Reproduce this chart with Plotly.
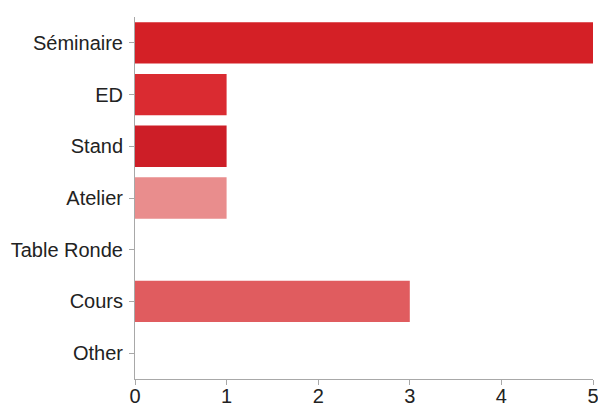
import plotly.graph_objects as go

categories = ["Séminaire", "ED", "Stand", "Atelier", "Table Ronde", "Cours", "Other"]
counts = [5, 1, 1, 1, 0, 3, 0]
bar_colors = ["#D42026", "#DA2B31", "#CD1E27", "#E98D8D", "#E05C5F", "#E05C5F", "#E05C5F"]

fig = go.Figure(
    go.Bar(
        x=counts,
        y=categories,
        orientation="h",
        marker=dict(color=bar_colors, line=dict(width=0)),
        cliponaxis=False,
    )
)

axis_style = dict(
    showline=True,
    linecolor="#a8a8a8",
    linewidth=1,
    ticks="outside",
    ticklen=5,
    tickcolor="#a8a8a8",
    showgrid=False,
    zeroline=False,
    automargin=False,
)

fig.update_layout(
    width=598,
    height=405,
    margin=dict(l=135, r=5, t=17, b=26),
    plot_bgcolor="white",
    paper_bgcolor="white",
    font=dict(family="Liberation Sans, Arial, sans-serif", size=20, color="#222222"),
    bargap=0.2,
    showlegend=False,
)
fig.update_xaxes(range=[0, 5], dtick=1, ticklabelstandoff=-6, ticklabeloverflow="allow", **axis_style)
fig.update_yaxes(categoryorder="array", categoryarray=categories[::-1], ticklabelstandoff=2, **axis_style)

# drop the default body margin so the figure fills the window exactly
fig.write_html(
    "out.html",
    config={"displayModeBar": False},
    post_script="document.body.style.margin='0';document.body.style.overflow='hidden';",
)
